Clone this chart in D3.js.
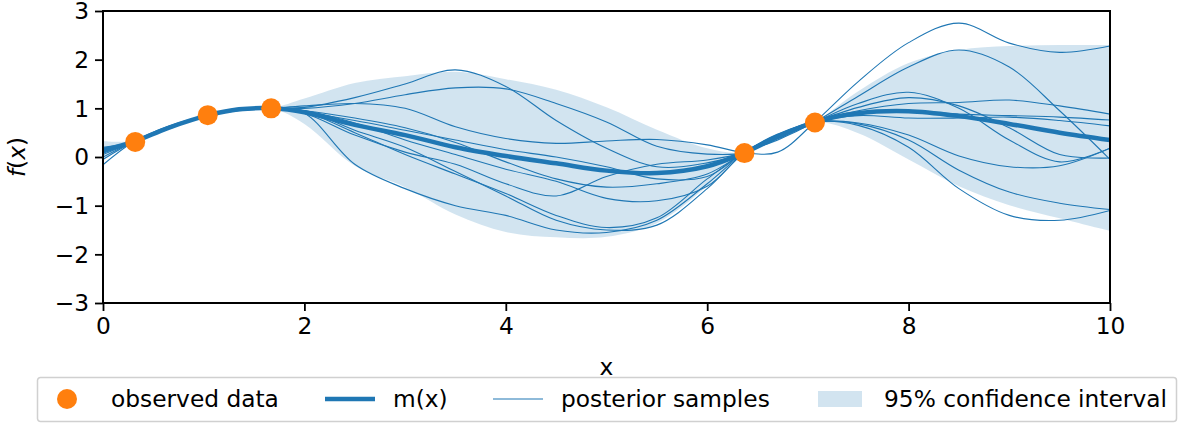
<!DOCTYPE html>
<html>
<head>
<meta charset="utf-8">
<script src="https://cdn.jsdelivr.net/npm/d3@7"></script>
<style>
	body { margin: 0; background: #fff; }
	svg text { font-family: "DejaVu Sans", sans-serif; }
</style>
</head>
<body>
<svg id="gp" width="1180" height="423"></svg>
<script>
// grid the curves were read on
var xGrid = [0, 0.3, 0.65, 1.05, 1.35, 1.68, 2, 2.5, 3, 3.5, 4, 4.5, 5, 5.5, 6, 6.37, 6.7, 7.07, 7.5, 8, 8.5, 9, 9.5, 10];

var meanVals  = [0.14, 0.31, 0.6, 0.86, 0.98, 1.0, 0.92, 0.66, 0.45, 0.2, 0.02, -0.13, -0.28, -0.33, -0.19, 0.09, 0.41, 0.72, 0.9, 0.94, 0.84, 0.68, 0.5, 0.35];
var upperVals = [0.33, 0.33, 0.64, 0.87, 1.02, 1.01, 1.2, 1.52, 1.66, 1.75, 1.6, 1.38, 1.02, 0.56, 0.18, 0.1, 0.48, 0.73, 1.35, 1.93, 2.2, 2.28, 2.3, 2.3];
var lowerVals = [-0.05, 0.29, 0.56, 0.85, 0.94, 0.99, 0.68, -0.18, -0.62, -1.18, -1.54, -1.65, -1.64, -1.36, -0.6, 0.08, 0.33, 0.71, 0.49, -0.05, -0.6, -0.99, -1.26, -1.52];

var sample1  = [0.05, 0.31, 0.61, 0.86, 0.97, 1.0, 1.02, 1.22, 1.5, 1.79, 1.45, 0.75, 0.18, -0.2, -0.12, 0.09, 0.43, 0.72, 0.85, 0.8, 0.8, 0.82, 0.75, 0.64];
var sample2  = [0.18, 0.31, 0.58, 0.86, 0.99, 1.0, 1.0, 1.1, 1.28, 1.42, 1.4, 1.1, 0.72, 0.22, 0.06, 0.09, 0.42, 0.72, 0.95, 1.1, 1.12, 1.17, 1.05, 0.88];
var sample3  = [-0.16, 0.31, 0.63, 0.86, 0.95, 1.0, 1.05, 1.1, 1.0, 0.62, 0.38, 0.28, 0.33, 0.36, 0.25, 0.09, 0.1, 0.72, 1.55, 2.35, 2.75, 2.34, 2.15, 2.28];
var sample4  = [0.12, 0.31, 0.62, 0.86, 0.99, 1.0, 0.9, -0.15, -0.65, -1.0, -1.2, -1.5, -1.55, -1.3, -0.55, 0.09, 0.46, 0.72, 0.68, 0.35, -0.27, -0.72, -0.95, -1.08];
var sample5  = [0.0, 0.31, 0.6, 0.86, 0.97, 1.0, 0.95, 0.55, 0.2, -0.3, -0.8, -1.3, -1.5, -1.4, -0.65, 0.09, 0.47, 0.72, 0.65, 0.2, -0.65, -1.2, -1.3, -1.1];
var sample6  = [0.1, 0.31, 0.59, 0.86, 0.98, 1.0, 0.93, 0.5, 0.05, -0.35, -0.75, -1.2, -1.45, -1.25, -0.45, 0.09, 0.35, 0.72, 1.25, 1.85, 2.2, 1.85, 0.95, -0.05];
var sample7  = [0.2, 0.31, 0.6, 0.86, 0.96, 1.0, 0.95, 0.7, 0.35, 0.05, -0.25, -0.5, -0.85, -0.9, -0.6, 0.09, 0.44, 0.72, 0.7, 0.45, 0.02, -0.2, -0.18, 0.18];
var sample8  = [-0.05, 0.31, 0.61, 0.86, 0.98, 1.0, 0.9, 0.45, 0.1, -0.15, -0.55, -0.8, -0.4, -0.15, -0.06, 0.09, 0.38, 0.72, 1.1, 1.33, 1.0, 0.35, -0.1, 0.18];
var sample9  = [0.15, 0.31, 0.6, 0.86, 0.99, 1.0, 0.92, 0.75, 0.55, 0.35, 0.15, 0.0, -0.2, -0.45, -0.4, 0.09, 0.4, 0.72, 1.02, 1.22, 1.05, 0.6, 0.05, -0.02];
var sample10 = [0.08, 0.31, 0.62, 0.86, 0.97, 1.0, 0.95, 0.8, 0.6, 0.3, -0.1, -0.45, -0.62, -0.55, -0.35, 0.09, 0.45, 0.72, 0.9, 0.95, 0.88, 0.85, 0.82, 0.76];
var samples = [sample1, sample2, sample3, sample4, sample5, sample6, sample7, sample8, sample9, sample10];

var obsX = [0.32, 1.04, 1.67, 6.37, 7.07];
var obsY = [0.31, 0.86, 1.0, 0.08, 0.71];

var xTicks = [0, 2, 4, 6, 8, 10];
var yTicks = [-3, -2, -1, 0, 1, 2, 3];
var legendLabels = ["observed data", "m(x)", "posterior samples", "95% confidence interval"];

var blue = "#1f77b4", orange = "#ff7f0e";
var fontSize = "23.3px";

var svg = d3.select("#gp");
var margin = {top: 11, right: 70, bottom: 120, left: 103},
	width = +svg.attr("width") - margin.left - margin.right,
	height = +svg.attr("height") - margin.top - margin.bottom;

var g = svg.append("g").attr("transform", "translate(" + margin.left + "," + margin.top + ")");

var x = d3.scaleLinear().domain([0, 10]).range([0, width]);
var y = d3.scaleLinear().domain([-3, 3]).range([height, 0]);

var pts = function (vals) { return vals.map(function (v, i) { return [xGrid[i], v]; }); };

var line = d3.line()
	.x(function (d) { return x(d[0]); })
	.y(function (d) { return y(d[1]); })
	.curve(d3.curveCatmullRom.alpha(0.5));

var band = d3.area()
	.x(function (d) { return x(d.x); })
	.y0(function (d) { return y(d.lo); })
	.y1(function (d) { return y(d.hi); })
	.curve(d3.curveCatmullRom.alpha(0.5));

g.append("clipPath").attr("id", "clip")
	.append("rect").attr("width", width).attr("height", height);

var plot = g.append("g").attr("clip-path", "url(#clip)");

plot.append("path")
	.datum(xGrid.map(function (v, i) { return {x: v, lo: lowerVals[i], hi: upperVals[i]}; }))
	.attr("fill", blue)
	.attr("fill-opacity", 0.2)
	.attr("d", band);

plot.selectAll(".sample")
	.data(samples)
	.enter().append("path")
	.attr("class", "sample")
	.attr("fill", "none")
	.attr("stroke", blue)
	.attr("stroke-width", 1.1)
	.attr("d", function (d) { return line(pts(d)); });

plot.append("path")
	.datum(pts(meanVals))
	.attr("fill", "none")
	.attr("stroke", blue)
	.attr("stroke-width", 4.5)
	.attr("d", line);

g.selectAll(".dot")
	.data(obsX)
	.enter().append("circle")
	.attr("class", "dot")
	.attr("cx", function (d) { return x(d); })
	.attr("cy", function (d, i) { return y(obsY[i]); })
	.attr("r", 10)
	.attr("fill", orange);

// axes
var xAxis = g.append("g")
	.attr("transform", "translate(0," + height + ")")
	.call(d3.axisBottom(x).tickValues(xTicks).tickFormat(d3.format("d")).tickSize(8).tickPadding(6));
var yAxis = g.append("g")
	.call(d3.axisLeft(y).tickValues(yTicks).tickFormat(d3.format("d")).tickSize(8).tickPadding(6));

[xAxis, yAxis].forEach(function (a) {
	a.select(".domain").remove();
	a.selectAll(".tick line").attr("stroke", "#000").attr("stroke-width", 1.8);
	a.selectAll(".tick text").attr("fill", "#000").style("font-size", fontSize);
});
// keep the top label inside the picture
yAxis.selectAll(".tick text").attr("dy", "0.34em");

g.append("rect")
	.attr("width", width).attr("height", height)
	.attr("fill", "none").attr("stroke", "#000").attr("stroke-width", 2);

// legend below the axes
var lg = svg.append("g").attr("transform", "translate(37,377)");
lg.append("rect")
	.attr("x", 0.5).attr("y", 0.5).attr("width", 1139).attr("height", 44)
	.attr("rx", 3)
	.attr("fill", "#fff").attr("stroke", "#d0d0d0").attr("stroke-width", 1.5);

var handleX = [30, 288, 456, 781];
var textX = [74, 356, 524, 847];
var cy = 22;

lg.append("circle").attr("cx", handleX[0]).attr("cy", cy).attr("r", 10).attr("fill", orange);
lg.append("line").attr("x1", handleX[1]).attr("x2", handleX[1] + 50).attr("y1", cy).attr("y2", cy)
	.attr("stroke", blue).attr("stroke-width", 4.5);
lg.append("line").attr("x1", handleX[2]).attr("x2", handleX[2] + 50).attr("y1", cy).attr("y2", cy)
	.attr("stroke", blue).attr("stroke-width", 1.1);
lg.append("rect").attr("x", handleX[3]).attr("y", cy - 8).attr("width", 44).attr("height", 16)
	.attr("fill", blue).attr("fill-opacity", 0.2);

lg.selectAll(".ltxt")
	.data(legendLabels)
	.enter().append("text")
	.attr("class", "ltxt")
	.attr("x", function (d, i) { return textX[i]; })
	.attr("y", cy)
	.attr("dy", "0.35em")
	.style("font-size", fontSize)
	.text(function (d) { return d; });

g.append("text")
	.attr("x", width / 2).attr("y", height + 72)
	.attr("text-anchor", "middle")
	.style("font-size", fontSize)
	.text("x");

g.append("text")
	.attr("transform", "rotate(-90)")
	.attr("x", -y(0)).attr("y", -78)
	.attr("text-anchor", "middle")
	.style("font-size", fontSize)
	.html('<tspan font-style="italic">f</tspan>(<tspan font-style="italic">x</tspan>)');
</script>
</body>
</html>
